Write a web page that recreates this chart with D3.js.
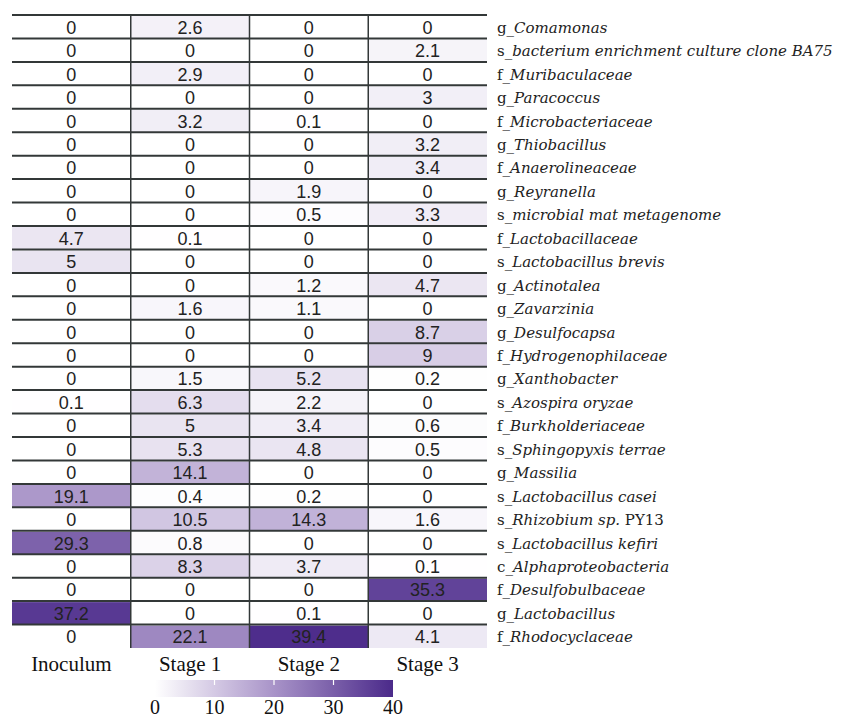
<!DOCTYPE html>
<html>
<head>
<meta charset="utf-8">
<script src="https://cdn.jsdelivr.net/npm/d3@7"></script>
<style>
  body { margin: 0; background: #fff; }
</style>
</head>
<body>
<div id="chart-container"></div>
<script>
/**************************************************
 * Heatmap Data
 **************************************************/

// Stages (columns)
const stages = ["Inoculum", "Stage 1", "Stage 2", "Stage 3"];

// Taxa (rows, top to bottom); "|" marks where upright text resumes
const taxa = [
  "g_Comamonas",
  "s_bacterium enrichment culture clone BA75",
  "f_Muribaculaceae",
  "g_Paracoccus",
  "f_Microbacteriaceae",
  "g_Thiobacillus",
  "f_Anaerolineaceae",
  "g_Reyranella",
  "s_microbial mat metagenome",
  "f_Lactobacillaceae",
  "s_Lactobacillus brevis",
  "g_Actinotalea",
  "g_Zavarzinia",
  "g_Desulfocapsa",
  "f_Hydrogenophilaceae",
  "g_Xanthobacter",
  "s_Azospira oryzae",
  "f_Burkholderiaceae",
  "s_Sphingopyxis terrae",
  "g_Massilia",
  "s_Lactobacillus casei",
  "s_Rhizobium sp.|PY13",
  "s_Lactobacillus kefiri",
  "c_Alphaproteobacteria",
  "f_Desulfobulbaceae",
  "g_Lactobacillus",
  "f_Rhodocyclaceae"
];

// Relative abundance (%) per stage, same order as taxa
const inoculum = [0, 0, 0, 0, 0, 0, 0, 0, 0, 4.7, 5, 0, 0, 0, 0, 0, 0.1, 0, 0, 0, 19.1, 0, 29.3, 0, 0, 37.2, 0];
const stage1   = [2.6, 0, 2.9, 0, 3.2, 0, 0, 0, 0, 0.1, 0, 0, 1.6, 0, 0, 1.5, 6.3, 5, 5.3, 14.1, 0.4, 10.5, 0.8, 8.3, 0, 0, 22.1];
const stage2   = [0, 0, 0, 0, 0.1, 0, 0, 1.9, 0.5, 0, 0, 1.2, 1.1, 0, 0, 5.2, 2.2, 3.4, 4.8, 0, 0.2, 14.3, 0, 3.7, 0, 0.1, 39.4];
const stage3   = [0, 2.1, 0, 3, 0, 3.2, 3.4, 0, 3.3, 0, 0, 4.7, 0, 8.7, 9, 0.2, 0, 0.6, 0.5, 0, 0, 1.6, 0, 0.1, 35.3, 0, 4.1];

// Colour bar ticks
const legendTicks = [0, 10, 20, 30, 40];

/**************************************************
 * Rendering
 **************************************************/

const width = 842, height = 717;
const series = [inoculum, stage1, stage2, stage3];
const serifWide = "'DejaVu Serif', serif";
const serif = "'Liberation Serif', 'Times New Roman', serif";

const cells = [];
taxa.forEach((t, r) => {
  stages.forEach((s, c) => {
    cells.push({ taxon: t, stage: s, value: series[c][r] });
  });
});

const svg = d3.select("#chart-container")
  .append("svg")
  .attr("width", width)
  .attr("height", height);

const x = d3.scaleBand().domain(stages).range([12, 487]);
const y = d3.scaleBand().domain(taxa).range([15, 648]);

const color = d3.scaleLinear()
  .domain([0, 20, 40])
  .range(["#ffffff", "#a893c8", "#4b2a8a"]);

// Cell fills
svg.append("g")
  .selectAll("rect")
  .data(cells)
  .enter()
  .append("rect")
  .attr("x", d => x(d.stage))
  .attr("y", d => y(d.taxon) + 1)
  .attr("width", x.bandwidth())
  .attr("height", y.bandwidth() - 1)
  .attr("fill", d => color(d.value));

// Grid lines: row tops and column separators
const grid = svg.append("g").attr("stroke", "#333838");
grid.selectAll("line.h")
  .data(taxa)
  .enter()
  .append("line")
  .attr("x1", 12)
  .attr("x2", 487)
  .attr("y1", d => y(d))
  .attr("y2", d => y(d))
  .attr("stroke-width", 2);

grid.selectAll("line.v")
  .data(stages.slice(1))
  .enter()
  .append("line")
  .attr("x1", d => x(d))
  .attr("x2", d => x(d))
  .attr("y1", 15)
  .attr("y2", 648)
  .attr("stroke-width", 1.5);

// Cell values
svg.append("g")
  .selectAll("text")
  .data(cells)
  .enter()
  .append("text")
  .attr("x", d => x(d.stage) + x.bandwidth() / 2)
  .attr("y", d => y(d.taxon) + y.bandwidth() / 2 + 1)
  .attr("text-anchor", "middle")
  .attr("dominant-baseline", "central")
  .attr("font-family", "'Liberation Sans', Arial, sans-serif")
  .attr("font-size", "18px")
  .attr("fill", "#222")
  .text(d => d.value);

// Row labels: rank prefix upright, name italic
const rowLabels = svg.append("g")
  .selectAll("text")
  .data(taxa)
  .enter()
  .append("text")
  .attr("x", 497)
  .attr("y", d => y(d) + y.bandwidth() / 2 + 1)
  .attr("dominant-baseline", "central")
  .attr("font-family", serifWide)
  .attr("font-size", "15px")
  .attr("fill", "#222");

rowLabels.each(function(d) {
  const t = d3.select(this);
  const [main, tail] = d.split("|");
  t.append("tspan").text(main.slice(0, 2));
  t.append("tspan").attr("font-style", "italic").text(main.slice(2));
  if (tail) t.append("tspan").text(" " + tail);
});

// Column labels
svg.append("g")
  .selectAll("text")
  .data(stages)
  .enter()
  .append("text")
  .attr("x", d => x(d) + x.bandwidth() / 2)
  .attr("y", 671)
  .attr("text-anchor", "middle")
  .attr("font-family", serif)
  .attr("font-size", "21px")
  .attr("fill", "#111")
  .text(d => d);

// Colour bar
const lx = d3.scaleLinear().domain([0, 40]).range([155, 393]);
const grad = svg.append("defs").append("linearGradient")
  .attr("id", "cbar");
d3.range(0, 41, 5).forEach(v => {
  grad.append("stop")
    .attr("offset", `${v / 40 * 100}%`)
    .attr("stop-color", color(v));
});

svg.append("rect")
  .attr("x", lx(0))
  .attr("y", 680)
  .attr("width", lx(40) - lx(0))
  .attr("height", 17)
  .attr("fill", "url(#cbar)");

svg.append("g")
  .selectAll("line")
  .data(legendTicks.slice(1, -1))
  .enter()
  .append("line")
  .attr("x1", d => lx(d))
  .attr("x2", d => lx(d))
  .attr("y1", 680)
  .attr("y2", 685)
  .attr("stroke", "#fff")
  .attr("stroke-width", 1.2);

svg.append("g")
  .selectAll("text")
  .data(legendTicks)
  .enter()
  .append("text")
  .attr("x", d => lx(d))
  .attr("y", 714)
  .attr("text-anchor", "middle")
  .attr("font-family", serif)
  .attr("font-size", "20px")
  .attr("fill", "#111")
  .text(d => d);
</script>
</body>
</html>
